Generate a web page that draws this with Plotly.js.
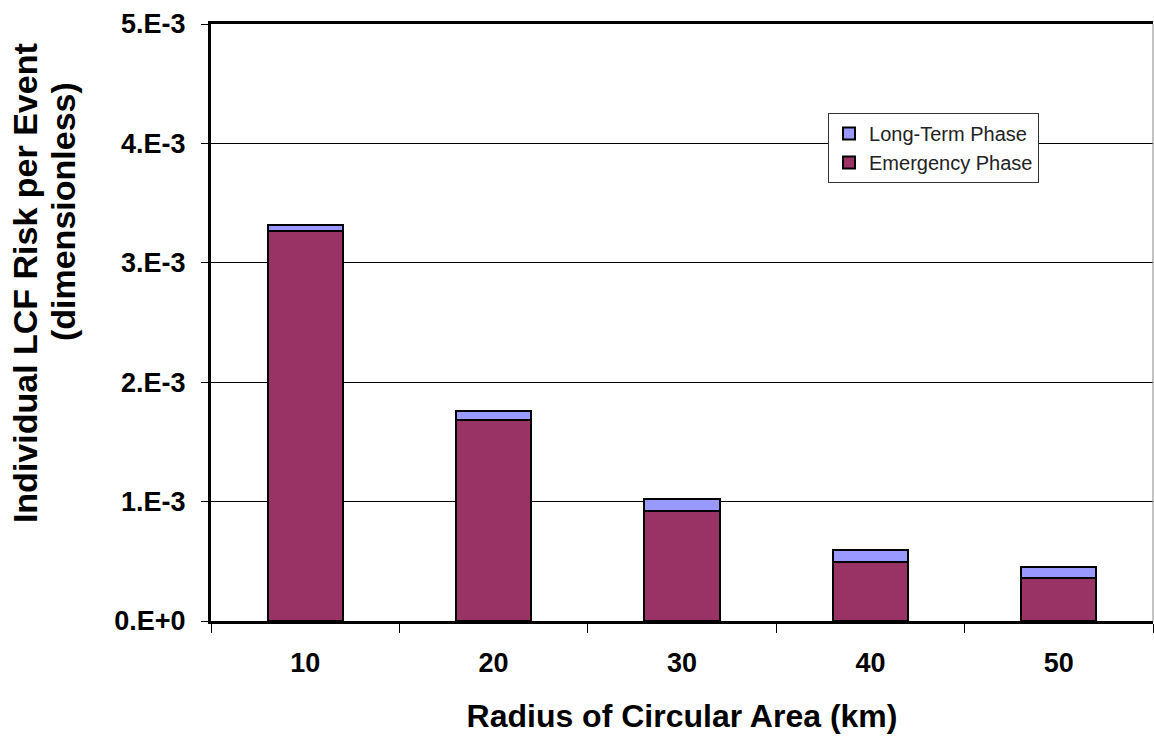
<!DOCTYPE html>
<html>
<head>
<meta charset="utf-8">
<script src="https://cdn.plot.ly/plotly-3.0.1.min.js"></script>
<style>html,body{margin:0;padding:0;background:#fff;}#chart{width:1154px;height:736px;}</style>
</head>
<body>
<div id="chart"></div>
<script>
const categories = ["10", "20", "30", "40", "50"];
const emergencyPhase = [3.27e-3, 1.68e-3, 0.925e-3, 0.493e-3, 0.364e-3];
const longTermPhase = [0.05e-3, 0.083e-3, 0.098e-3, 0.103e-3, 0.087e-3];
const yTickVals = [0, 1e-3, 2e-3, 3e-3, 4e-3, 5e-3];
const yTickText = ["0.E+0", "1.E-3", "2.E-3", "3.E-3", "4.E-3", "5.E-3"];
const yTitleLines = ["Individual LCF Risk per Event", "(dimensionless)"];
const xTitle = "Radius of Circular Area (km)";

const FONT = "Arial, 'Liberation Sans', sans-serif";

const traces = [
  {
    type: "bar", name: "Emergency Phase", x: categories, y: emergencyPhase,
    legendrank: 2,
    marker: {color: "#993366", line: {color: "#000000", width: 2}}
  },
  {
    type: "bar", name: "Long-Term Phase", x: categories, y: longTermPhase,
    legendrank: 1,
    marker: {color: "#9999FF", line: {color: "#000000", width: 2}}
  }
];

const layout = {
  width: 1154, height: 736,
  margin: {l: 211, r: 1, t: 24, b: 115},
  paper_bgcolor: "#ffffff", plot_bgcolor: "#ffffff",
  barmode: "stack", bargap: 0.6,
  font: {family: FONT, color: "#000000"},
  showlegend: true,
  legend: {
    x: 0.655, y: 0.851, xanchor: "left", yanchor: "top",
    traceorder: "normal",
    bordercolor: "#333333", borderwidth: 1, bgcolor: "#ffffff",
    font: {family: FONT, size: 20, color: "#222222"}
  },
  xaxis: {
    type: "category",
    showline: true, linecolor: "#000000", linewidth: 3, mirror: true,
    ticks: "outside", tickson: "boundaries", ticklen: 9, tickcolor: "#000000", tickwidth: 1,
    ticklabelstandoff: 16,
    showgrid: false,
    tickfont: {family: FONT, size: 27, color: "#000000", weight: "bold"},
    title: {text: "<b>" + xTitle + "</b>", font: {family: FONT, size: 32, color: "#000000"}, standoff: 28}
  },
  yaxis: {
    range: [0, 5e-3],
    tickvals: yTickVals, ticktext: yTickText,
    showline: true, linecolor: "#000000", linewidth: 3,
    ticks: "outside", ticklen: 7, tickcolor: "#000000", tickwidth: 1,
    ticklabelstandoff: 10,
    showgrid: true, gridcolor: "#000000", gridwidth: 1,
    zeroline: false,
    tickfont: {family: FONT, size: 27, color: "#000000", weight: "bold"}
  },
  annotations: [
    {text: "<b>" + yTitleLines[0] + "</b>", textangle: -90, xref: "paper", yref: "paper",
     x: 0, xshift: -186, y: 0.566, xanchor: "center", yanchor: "middle", showarrow: false,
     font: {family: FONT, size: 34, color: "#000000"}},
    {text: "<b>" + yTitleLines[1] + "</b>", textangle: -90, xref: "paper", yref: "paper",
     x: 0, xshift: -148, y: 0.685, xanchor: "center", yanchor: "middle", showarrow: false,
     font: {family: FONT, size: 34, color: "#000000"}}
  ],
  shapes: [
    {type: "line", xref: "paper", yref: "paper", x0: 1, x1: 1, y0: 0, y1: 1, line: {color: "#888888", width: 1}}
  ]
};

Plotly.newPlot("chart", traces, layout, {displayModeBar: false, staticPlot: true});
</script>
</body>
</html>
